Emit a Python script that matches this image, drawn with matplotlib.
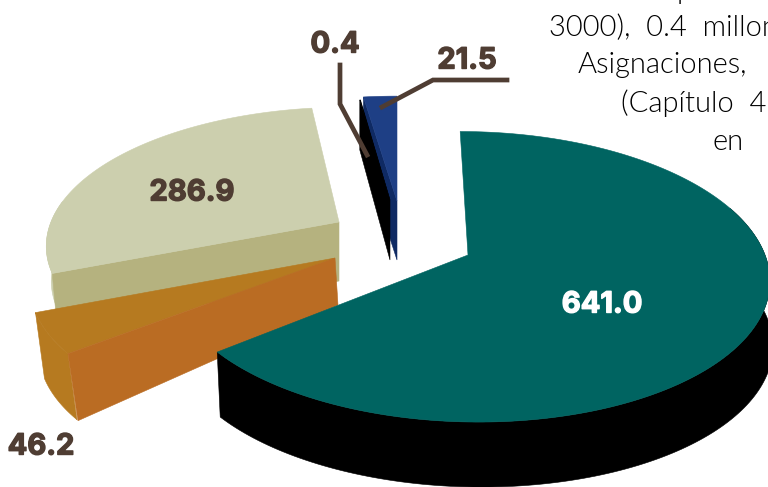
import matplotlib
matplotlib.use('Agg')
import matplotlib.pyplot as plt
import matplotlib.patheffects as pe
import numpy as np

# clockwise from the top of the pie
categories = ['teal', 'orange', 'beige', 'sliver', 'blue']
values = [641.0, 46.2, 286.9, 0.4, 21.5]
value_labels = ['641.0', '46.2', '286.9', '0.4', '21.5']
text_lines = ['p', '3000),  0.4  millones', 'Asignaciones,', '(Capítulo  4', 'en']

INK = '#4f3d33'
TILT = 0.15  # perspective of the disc

plt.rcParams['font.family'] = ['Inter', 'DejaVu Sans']

fig = plt.figure(figsize=(7.68, 4.87), dpi=100)
ax = fig.add_axes([0, 0, 1, 1])
ax.set_xlim(0, 768)
ax.set_ylim(487, 0)
ax.axis('off')

# slice angles come from the values
ends = np.cumsum(values) / np.sum(values) * 2 * np.pi
starts = np.concatenate(([0], ends[:-1]))
angles = dict(zip(categories, zip(starts, ends)))


def rim(name, apex, a, b, shear):
    t = np.linspace(angles[name][0], angles[name][1], 200)
    w = 1 + TILT * np.cos(t)
    x = apex[0] + (a * np.sin(t) + shear * np.cos(t)) / w
    y = apex[1] - b * np.cos(t) / w
    return x, y


def face(xs, ys, color):
    # thin edge in the same colour hides the antialiasing seams
    ax.fill(xs, ys, facecolor=color, edgecolor=color, lw=0.4)


# beige
x, y = rim('beige', (339, 222), 288, 132, 8.5)
face(np.r_[x[:60], x[:60][::-1] + 5], np.r_[y[:60], y[:60][::-1] + 35], '#cccfae')
face([x[0], 339, 339, x[0] + 5], [y[0], 222, 281, y[0] + 55], '#b5b27f')
face(np.r_[x, 339], np.r_[y, 222], '#cccfae')

# orange
x, y = rim('orange', (335, 258), 300, 140, 11)
face(np.r_[x, x[::-1] + 9], np.r_[y, y[::-1] + 66], '#b67a20')
face(np.r_[x, 335], np.r_[y, 258], '#b67a20')
face([x[0], 335, 338, x[0] + 10], [y[0], 258, 305, y[0] + 67], '#ba6c23')

# blue, the thin sliver sits in front of it
x, y = rim('blue', (397, 201), 285, 120.6, 0)
face([x[0], 397, 397, x[0]], [y[0], 201, 260, y[0] + 59], '#0f2a63')
face(np.r_[x, 397], np.r_[y, 201], '#1e3f85')

x, y = rim('sliver', (390, 200), 295, 116, 6)
face(np.r_[x, 390], np.r_[y, 200], 'black')
face([x[0], 390, 390, x[0]], [y[0], 200, 260, y[0] + 50], 'black')

# teal
x, y = rim('teal', (468, 255), 297, 142, -9)
face(np.r_[x[60:], x[60:][::-1] + 3], np.r_[y[60:], y[60:][::-1] + 65], 'black')
face(np.r_[x, 468], np.r_[y, 255], '#006461')

# leader lines
ax.plot([340, 340, 367], [65, 104, 155], color=INK, lw=3.4, solid_joinstyle='miter')
ax.plot([507, 433, 382], [80, 80, 107], color=INK, lw=3.4, solid_joinstyle='miter')

label_pos = [(602, 305), (41, 447), (192, 193), (335, 45), (467, 61)]
for lab, pos in zip(value_labels, label_pos):
    col = 'white' if lab == '641.0' else INK
    ax.text(pos[0], pos[1], lab, color=col, fontsize=21, fontweight='bold', ha='center', va='center',
            path_effects=[pe.withStroke(linewidth=1.0, foreground=col)])

text_pos = [(677, -1), (549, 36), (578, 73), (621, 112), (713, 150)]
for line, pos in zip(text_lines, text_pos):
    ax.text(pos[0], pos[1], line, family=['Lato', 'DejaVu Sans'], fontweight=300, fontsize=21,
            color='black', ha='left', va='baseline', clip_on=True)

fig.savefig('out.png', dpi=100)
